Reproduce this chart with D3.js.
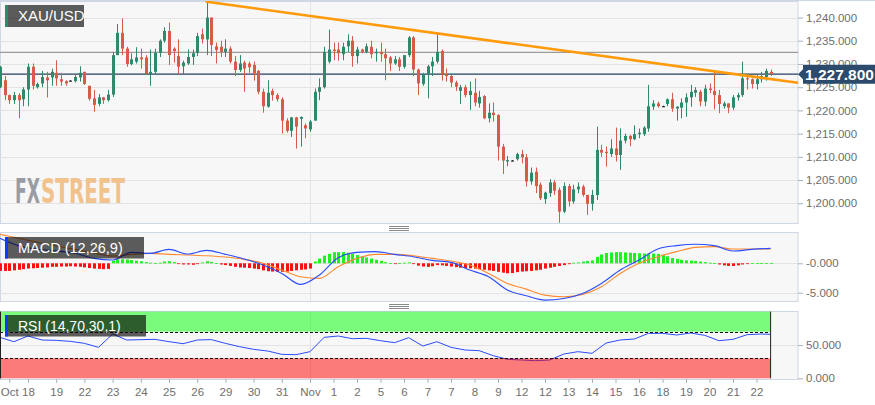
<!DOCTYPE html>
<html><head><meta charset="utf-8">
<script src="https://cdn.jsdelivr.net/npm/d3@7/dist/d3.min.js"></script>
<style>
html,body{margin:0;padding:0;background:#fff;}
svg{display:block;font-family:"Liberation Sans",Arial,sans-serif;}
</style></head>
<body>
<svg id="chart" width="875" height="405"></svg>
<script>
// ---------------- DATA ----------------
const symbol = "XAU/USD";
const lastPrice = 1227.8;
const resistanceLevel = 1232.5;
const open = [1225.0,1226.5,1223.3,1222.2,1223.3,1222.4,1224.5,1229.4,1225.0,1225.8,
1227.1,1227.1,1228.1,1226.7,1226.3,1226.4,1226.3,1227.1,1228.3,1225.3,
1222.6,1221.4,1222.8,1222.2,1223.4,1231.9,1236.7,1233.3,1230.0,1230.5,
1231.4,1231.4,1227.8,1228.3,1232.4,1235.0,1237.1,1233.3,1231.7,1229.5,
1230.1,1231.5,1232.4,1236.4,1235.3,1240.0,1233.8,1233.7,1232.6,1233.3,
1230.5,1228.7,1230.3,1230.1,1229.8,1228.5,1224.0,1220.8,1224.2,1223.3,
1222.4,1217.8,1215.6,1218.5,1218.2,1216.8,1215.9,1217.8,1224.0,1225.0,
1230.5,1233.1,1233.1,1232.1,1233.8,1235.0,1231.7,1233.1,1232.6,1233.7,
1232.3,1232.6,1232.1,1231.4,1230.1,1231.0,1229.4,1231.9,1235.7,1228.8,
1225.7,1227.8,1229.5,1230.5,1232.8,1227.8,1227.4,1226.0,1224.2,1225.0,
1223.3,1223.8,1221.5,1223.1,1218.3,1219.5,1219.0,1212.2,1209.0,1209.2,
1209.5,1210.6,1209.9,1204.7,1206.8,1204.0,1200.9,1202.2,1204.5,1202.9,
1198.2,1203.7,1200.4,1203.0,1203.6,1201.8,1199.9,1201.8,1211.5,1211.1,
1210.6,1211.8,1210.4,1213.5,1214.5,1213.8,1214.9,1214.9,1216.1,1220.8,
1221.5,1220.9,1221.4,1222.4,1220.4,1220.6,1221.7,1222.8,1223.8,1224.0,
1221.9,1224.7,1224.2,1223.3,1220.9,1221.5,1220.6,1222.8,1223.3,1226.9,
1226.7,1225.7,1226.7,1227.2,1228.3];
const high = [1229.6,1227.4,1223.4,1224.0,1223.7,1225.0,1230.1,1230.1,1226.0,1228.5,
1228.3,1229.0,1230.8,1228.1,1226.5,1226.5,1227.6,1229.5,1228.3,1225.3,
1224.4,1223.5,1222.9,1224.4,1232.6,1238.6,1239.8,1233.7,1232.3,1233.6,
1233.3,1231.9,1233.1,1233.3,1235.3,1237.9,1238.9,1233.6,1235.3,1230.7,
1233.1,1233.1,1236.7,1237.6,1243.4,1240.0,1234.6,1235.0,1235.3,1233.8,
1231.7,1231.9,1230.7,1230.5,1230.5,1228.7,1224.7,1226.5,1224.7,1223.7,
1222.8,1218.3,1218.6,1218.6,1218.7,1217.2,1217.9,1224.7,1226.9,1233.7,
1237.4,1234.6,1234.6,1234.6,1236.4,1236.0,1233.7,1233.3,1234.4,1235.0,
1233.3,1234.6,1233.3,1231.7,1231.7,1231.5,1231.9,1236.0,1236.0,1229.0,
1228.1,1229.8,1231.5,1236.6,1233.1,1229.0,1227.6,1226.4,1225.5,1225.5,
1226.2,1226.9,1224.2,1223.3,1221.5,1221.7,1219.2,1212.8,1210.2,1209.3,
1210.9,1211.5,1210.6,1207.7,1207.7,1204.5,1202.5,1205.2,1205.0,1203.4,
1204.5,1204.2,1204.0,1204.5,1204.0,1201.8,1202.9,1216.5,1212.6,1212.2,
1213.8,1216.3,1216.1,1215.0,1214.7,1216.8,1216.1,1216.6,1225.5,1222.2,
1221.9,1221.0,1222.6,1223.8,1220.9,1222.6,1223.7,1225.5,1225.0,1224.4,
1225.5,1225.8,1228.7,1224.4,1221.9,1221.5,1223.3,1223.8,1230.5,1227.6,
1226.9,1227.6,1228.3,1229.0,1228.8];
const low = [1224.8,1222.2,1221.4,1221.4,1218.3,1220.9,1220.9,1224.5,1224.7,1225.0,
1222.8,1225.3,1225.3,1225.3,1225.3,1226.3,1226.0,1226.2,1225.5,1222.1,
1219.7,1220.9,1221.4,1221.9,1222.9,1231.9,1231.9,1229.4,1229.7,1230.1,
1229.0,1227.8,1225.3,1227.8,1231.5,1234.6,1229.8,1230.3,1227.8,1227.8,
1229.8,1229.8,1231.7,1234.4,1231.9,1231.7,1230.1,1231.5,1231.5,1230.1,
1227.4,1228.3,1224.0,1228.1,1226.4,1223.5,1219.5,1220.6,1222.1,1221.9,
1215.0,1215.2,1214.3,1211.8,1212.2,1214.0,1215.4,1217.8,1222.2,1224.7,
1230.1,1230.8,1230.7,1230.8,1232.6,1229.4,1230.1,1232.3,1232.3,1231.2,
1230.5,1230.5,1226.5,1228.5,1229.8,1228.5,1229.0,1231.5,1227.4,1223.3,
1225.3,1222.6,1227.4,1230.1,1226.4,1226.2,1225.0,1224.2,1221.4,1222.8,
1220.1,1220.9,1220.6,1218.1,1217.4,1217.6,1209.2,1206.3,1208.0,1209.1,
1209.2,1208.6,1203.6,1204.0,1202.2,1200.7,1199.9,1201.4,1201.8,1195.8,
1197.9,1199.3,1199.9,1202.2,1201.4,1197.5,1198.4,1200.7,1210.0,1207.9,
1210.0,1209.0,1207.2,1212.9,1212.3,1213.6,1214.0,1214.5,1215.4,1220.1,
1220.6,1220.8,1220.9,1219.7,1217.8,1218.3,1218.6,1220.8,1222.9,1220.9,
1220.9,1223.7,1220.2,1219.4,1220.4,1219.4,1220.1,1222.1,1222.9,1224.5,
1224.7,1224.5,1226.0,1226.4,1227.4];
const close = [1229.4,1223.3,1222.2,1223.3,1222.2,1224.5,1229.4,1225.3,1225.7,1227.2,
1226.5,1228.3,1226.9,1226.2,1225.8,1226.4,1227.2,1228.1,1225.7,1222.5,
1221.2,1222.8,1222.2,1223.4,1231.9,1236.7,1233.3,1230.0,1231.0,1231.4,
1231.0,1227.8,1228.3,1232.4,1235.0,1237.1,1231.9,1232.8,1229.4,1230.3,
1231.5,1232.3,1236.0,1235.3,1240.0,1234.1,1233.0,1232.6,1233.3,1230.5,
1228.7,1230.1,1229.0,1229.3,1228.0,1224.0,1220.9,1223.8,1223.3,1222.4,
1217.8,1215.6,1218.5,1216.5,1218.6,1216.1,1217.6,1224.0,1225.0,1232.6,
1233.1,1232.8,1232.3,1233.7,1235.0,1231.7,1233.1,1232.6,1233.8,1232.1,
1232.6,1232.1,1231.2,1230.1,1231.0,1229.4,1231.9,1235.7,1228.8,1225.8,
1227.8,1229.5,1230.5,1232.6,1227.8,1227.4,1226.0,1225.1,1225.0,1223.3,
1224.2,1221.7,1222.9,1218.3,1219.5,1219.0,1212.2,1209.2,1209.3,1209.2,
1210.6,1209.9,1204.7,1206.6,1203.7,1201.1,1202.3,1204.5,1202.7,1198.2,
1203.7,1200.4,1203.0,1203.6,1201.8,1199.9,1201.8,1211.5,1210.9,1210.8,
1211.8,1210.4,1213.5,1214.5,1213.8,1214.9,1215.2,1216.3,1220.9,1221.5,
1220.9,1220.9,1222.4,1220.4,1220.8,1221.7,1222.8,1224.0,1224.4,1221.9,
1224.7,1224.4,1223.3,1221.4,1221.5,1220.6,1222.8,1223.3,1226.9,1226.7,
1225.7,1226.7,1227.4,1228.5,1227.8];

// trendline anchors: [candle index, price]
const trendA = [44, 1243.4];
const trendB = [93, 1236.6];

// price axis ticks
const priceTicks = [1200,1205,1210,1215,1220,1225,1230,1235,1240];

// x-axis tick labels (candle index -> label)
const xTickIdx    = [2,6,12,18,24,30,36,42,48,54,60,66,71,76,81,86,91,96,101,106,111,116,121,126,131,136,141,146,151,156,161];
const xTickLabels = ["Oct","18","19","22","23","24","25","26","29","30","31","Nov","1","2","5","6","7","7","8","9","12","12","13","14","15","16","18","19","20","21","22"];

// MACD histogram, one per candle
const macdHist = [-1.3,-1.3,-1.3,-1.2,-1.1,-1.0,-0.9,-0.85,-0.8,-0.75,-0.7,-0.6,-0.6,-0.55,-0.55,-0.5,-0.55,-0.6,-0.7,-0.8,-0.9,-0.95,-1.0,-0.95,
0.4,0.7,0.7,0.65,0.55,0.45,0.35,
0.2,0.1,0.05,0.1,0.3,0.35,0.2,-0.1,-0.2,-0.2,-0.25,-0.1,0.15,0.35,0.25,0.05,
-0.2,-0.3,-0.45,-0.6,-0.7,-0.75,-0.8,-0.9,-1.0,-1.2,-1.35,-1.4,-1.45,-1.45,-1.4,-1.3,-1.2,-1.1,-1.05,-0.9,
0.3,0.8,1.3,1.6,1.9,1.9,1.9,1.8,1.6,1.4,1.2,1.0,0.8,0.6,0.4,0.2,
0.05,-0.1,0.05,0.1,0.15,-0.1,
-0.4,-0.55,-0.6,-0.5,-0.3,
-0.35,-0.45,-0.55,-0.65,-0.75,-0.8,-0.85,-0.9,-1.0,-1.1,-1.2,-1.3,-1.45,-1.6,-1.7,-1.65,-1.5,-1.4,-1.35,-1.3,-1.2,-1.1,-0.9,-0.75,-0.6,-0.45,-0.3,-0.15,
0.1,0.15,0.3,0.4,0.5,1.1,1.5,1.75,1.85,1.9,1.9,1.85,1.8,1.75,1.7,1.65,1.65,1.65,1.6,1.4,1.2,0.9,0.75,0.6,0.5,0.45,0.4,0.3,0.2,0.1,0.05,
-0.2,-0.35,-0.45,-0.45,-0.35,-0.2,-0.05,0.05,0.05,0.05,0.05,0.05];
// MACD & signal lines, read every 4th candle
const macdAt = d3.range(0, 165, 4);
const macdLine = [4.25,3.0,2.4,2.1,1.7,0.84,0.56,1.86,1.69,2.37,
1.58,2.2,1.52,0.73,-0.3,-1.72,-3.59,-1.99,0.95,1.86,
1.98,1.52,1.12,0.5,0.16,-1.15,-2.28,-4.56,-5.52,-6.26,
-5.98,-5.12,-3.42,-1.15,0.56,2.43,3.0,3.23,3.0,2.09,
2.37,2.54];
const signalLine = [4.93,4.25,3.57,2.94,2.37,1.75,1.24,1.52,1.69,1.52,
1.41,1.29,1.07,0.67,0,-1.15,-2.28,-2.57,-0.58,0.84,
1.52,1.52,1.29,0.84,0.39,-0.30,-1.72,-3.42,-4.39,-5.41,
-5.69,-5.29,-3.99,-1.72,0,1.12,1.98,2.71,2.83,2.43,
2.43,2.43];
const macdTicks = [0, -5];
const macdTickLabels = ["-0.000", "-5.000"];

// RSI read every 3rd candle (+ last)
const rsiAt = [...d3.range(0, 163, 3), 164];
const rsiValues = [61.4,54.9,63.4,57.4,56.9,55.4,52.4,46.4,66.4,57.4,
57.9,58.4,54.9,51.9,57.4,58,52.4,47.4,43.4,40.9,
35.9,35.4,39.9,61.4,63.4,59.4,59.9,56.4,53.4,60.9,
48.4,54.9,46.4,42.4,41.4,33.9,28.4,27.4,26.4,27.4,
36.4,39.9,37.4,52.9,57.4,58.9,67.4,67.4,64.9,67.9,
64.4,56.4,58.4,65.4,66.4,65.9];
const rsiTicks = [50, 0];
const rsiTickLabels = ["50.000", "0.000"];

// ---------------- LAYOUT ----------------
const W = 875, H = 405;
const plotL = 0, plotR = 798;
const main = {top: 1, bottom: 223};
const macdP = {top: 232, bottom: 301};
const rsiP = {top: 311, bottom: 379};
const n = close.length;

const C = {
  up: "#2e8a6c", down: "#d85a48", doji: "#111",
  grid: "#e3e3e3", bg: "#f7f7f7", border: "#cfd6e4",
  axisText: "#6e6e6e", trend: "#ff9a0a", navy: "#24405f"
};

const svg = d3.select("#chart");
svg.append("rect").attr("width", W).attr("height", H).attr("fill", "#fff");

const x = d3.scaleLinear().domain([0, n - 1]).range([-0.2, -0.2 + 4.7 * (n - 1)]);
const y = d3.scaleLinear().domain([1200, 1240]).range([203.3, 17.5]);
const yM = d3.scaleLinear().domain([-5, 0]).range([292.7, 263.3]);
const yR = d3.scaleLinear().domain([0, 100]).range([378.3, 311.6]);

const defs = svg.append("defs");
function clip(id, top, bottom) {
  defs.append("clipPath").attr("id", id).append("rect")
    .attr("x", plotL).attr("y", top).attr("width", plotR - plotL).attr("height", bottom - top);
  return "url(#" + id + ")";
}
const clipMain = clip("cm", main.top, main.bottom);
const clipMacd = clip("cmacd", macdP.top, macdP.bottom);
const clipRsi = clip("crsi", rsiP.top, rsiP.bottom);

// outer top line
svg.append("line").attr("x1", 0).attr("x2", W).attr("y1", 0.5).attr("y2", 0.5).attr("stroke", C.border);

function panel(p) {
  svg.append("rect").attr("x", plotL + 0.5).attr("y", p.top + 0.5)
    .attr("width", plotR - plotL - 0.5).attr("height", p.bottom - p.top)
    .attr("fill", C.bg).attr("stroke", C.border);
}
panel(main); panel(macdP); panel(rsiP);

// vertical gridline at month start (Nov)
const novIdx = xTickIdx[xTickLabels.indexOf("Nov")];
[main, macdP, rsiP].forEach(p => {
  svg.append("line").attr("x1", Math.round(x(novIdx)) + 0.5).attr("x2", Math.round(x(novIdx)) + 0.5)
    .attr("y1", p.top + 1).attr("y2", p.bottom).attr("stroke", C.grid);
});

// ---------------- MAIN PANEL ----------------
const gMain = svg.append("g").attr("clip-path", clipMain);
gMain.selectAll("line.hg").data(priceTicks).join("line").attr("class", "hg")
  .attr("x1", plotL).attr("x2", plotR)
  .attr("y1", d => Math.round(y(d)) + 0.5).attr("y2", d => Math.round(y(d)) + 0.5)
  .attr("stroke", C.grid);

// watermark (single text element, two coloured parts)
const wm = svg.append("text").attr("x", 15).attr("y", 203)
  .attr("font-family", "'DejaVu Sans Condensed','Liberation Sans Narrow',sans-serif")
  .attr("font-weight", "bold").attr("font-size", 34);
wm.append("tspan").attr("fill", "#9a9ca3")
  .attr("textLength", 25).attr("lengthAdjust", "spacingAndGlyphs").text("FX");
wm.append("tspan").attr("x", 41).attr("fill", "#f1c28c")
  .attr("textLength", 84).attr("lengthAdjust", "spacingAndGlyphs").text("STREET");

// horizontal level lines
gMain.append("line").attr("x1", plotL).attr("x2", plotR)
  .attr("y1", y(resistanceLevel)).attr("y2", y(resistanceLevel))
  .attr("stroke", "#9b9b9b").attr("stroke-width", 1.3);
gMain.append("line").attr("x1", plotL).attr("x2", plotR)
  .attr("y1", y(lastPrice)).attr("y2", y(lastPrice))
  .attr("stroke", C.navy).attr("stroke-width", 1.3);

// candles
const candles = d3.range(n).map(i => ({i, o: open[i], h: high[i], l: low[i], c: close[i]}));
const col = d => d.c > d.o ? C.up : (d.c < d.o ? C.down : C.doji);
const gC = gMain.append("g");
gC.selectAll("line.wick").data(candles).join("line").attr("class", "wick")
  .attr("x1", d => Math.round(x(d.i)) + 0.5).attr("x2", d => Math.round(x(d.i)) + 0.5)
  .attr("y1", d => y(d.h)).attr("y2", d => y(d.l))
  .attr("stroke", col).attr("stroke-width", 1);
gC.selectAll("rect.body").data(candles).join("rect").attr("class", "body")
  .attr("x", d => Math.round(x(d.i)) - 1)
  .attr("width", 3)
  .attr("y", d => y(Math.max(d.o, d.c)))
  .attr("height", d => Math.max(1, Math.abs(y(d.o) - y(d.c))))
  .attr("fill", col);

// trendline (extended to panel's right edge)
const slope = (trendB[1] - trendA[1]) / (trendB[0] - trendA[0]);
const idxEnd = x.invert(plotR);
gMain.append("line")
  .attr("x1", x(trendA[0])).attr("y1", y(trendA[1]))
  .attr("x2", x(idxEnd)).attr("y2", y(trendA[1] + slope * (idxEnd - trendA[0])))
  .attr("stroke", C.trend).attr("stroke-width", 2.6).attr("stroke-linecap", "round");

// price axis
const fmt = d3.format(",.3f");
const axPrice = svg.append("g").attr("transform", `translate(${plotR},0)`)
  .call(d3.axisRight(y).tickValues(priceTicks).tickFormat(fmt).tickSize(5).tickPadding(3));
function styleAxis(g) {
  g.select(".domain").remove();
  g.selectAll(".tick line").attr("stroke", "#a9b0c0");
  g.selectAll(".tick text").attr("fill", C.axisText).attr("font-size", 11.5)
    .attr("font-family", "'Liberation Sans',Arial,sans-serif");
}
styleAxis(axPrice);

// last price marker
const ly = y(lastPrice);
svg.append("path")
  .attr("d", `M798,${ly} L803,${ly - 5} L803,${ly - 9.5} L875,${ly - 9.5} L875,${ly + 9.5} L803,${ly + 9.5} L803,${ly + 5} Z`)
  .attr("fill", "#2b4a6c");
svg.append("text").attr("x", 805).attr("y", ly + 5.5).attr("fill", "#fff")
  .attr("font-size", 15.5).attr("font-weight", "bold").text(fmt(lastPrice));

// ---------------- MACD PANEL ----------------
const gM = svg.append("g").attr("clip-path", clipMacd);
gM.selectAll("line.mg").data(macdTicks).join("line").attr("class", "mg")
  .attr("x1", plotL).attr("x2", plotR)
  .attr("y1", d => Math.round(yM(d)) + 0.5).attr("y2", d => Math.round(yM(d)) + 0.5)
  .attr("stroke", C.grid);
gM.selectAll("rect.hist").data(macdHist).join("rect").attr("class", "hist")
  .attr("x", (d, i) => Math.round(x(i)) - 1).attr("width", 3)
  .attr("y", d => Math.min(yM(d), yM(0)))
  .attr("height", d => Math.max(0.8, Math.abs(yM(d) - yM(0))))
  .attr("fill", d => d >= 0 ? "#1ff01f" : "#ff1010");
const mLine = d3.line().x(d => x(d[0])).y(d => yM(d[1])).curve(d3.curveMonotoneX);
gM.append("path").attr("d", mLine(macdAt.map((a, k) => [a, signalLine[k]])))
  .attr("fill", "none").attr("stroke", "#ff8a2e").attr("stroke-width", 1.1);
gM.append("path").attr("d", mLine(macdAt.map((a, k) => [a, macdLine[k]])))
  .attr("fill", "none").attr("stroke", "#2a4cff").attr("stroke-width", 1.1);
const axM = svg.append("g").attr("transform", `translate(${plotR},0)`)
  .call(d3.axisRight(yM).tickValues(macdTicks).tickFormat((d, k) => macdTickLabels[k]).tickSize(5).tickPadding(3));
styleAxis(axM);

// ---------------- RSI PANEL ----------------
const gR = svg.append("g").attr("clip-path", clipRsi);
gR.append("line").attr("x1", plotL).attr("x2", plotR)
  .attr("y1", Math.round(yR(50)) + 0.5).attr("y2", Math.round(yR(50)) + 0.5).attr("stroke", C.grid);
gR.append("path").attr("d", d3.line().x(d => x(d[0])).y(d => yR(d[1]))(rsiAt.map((a, k) => [a, rsiValues[k]])))
  .attr("fill", "none").attr("stroke", "#2a4cff").attr("stroke-width", 1);
const bandR = x(n - 1);
gR.append("rect").attr("x", 0).attr("width", bandR).attr("y", yR(100)).attr("height", yR(70) - yR(100))
  .attr("fill", "rgba(0,255,0,0.5)");
gR.append("rect").attr("x", 0).attr("width", bandR).attr("y", yR(30)).attr("height", yR(0) - yR(30))
  .attr("fill", "rgba(255,0,0,0.5)");
[70, 30].forEach(v => gR.append("line").attr("x1", 0).attr("x2", bandR)
  .attr("y1", Math.round(yR(v)) + 0.5).attr("y2", Math.round(yR(v)) + 0.5)
  .attr("stroke", "#111").attr("stroke-dasharray", "3,2").attr("stroke-width", 1));
[0.5, bandR].forEach(xx => gR.append("line").attr("x1", xx).attr("x2", xx)
  .attr("y1", yR(100)).attr("y2", yR(0)).attr("stroke", "#222").attr("stroke-width", 1));
const axR = svg.append("g").attr("transform", `translate(${plotR},0)`)
  .call(d3.axisRight(yR).tickValues(rsiTicks).tickFormat((d, k) => rsiTickLabels[k]).tickSize(5).tickPadding(3));
styleAxis(axR);

// ---------------- X AXIS ----------------
const axX = svg.append("g").attr("transform", `translate(0,${rsiP.bottom})`)
  .call(d3.axisBottom(x).tickValues(xTickIdx).tickFormat((d, k) => xTickLabels[k]).tickSize(4).tickPadding(5));
axX.select(".domain").remove();
axX.selectAll(".tick line").attr("stroke", "#a9b0c0");
axX.selectAll(".tick text").attr("fill", C.axisText).attr("font-size", 11.5)
  .attr("font-family", "'Liberation Sans',Arial,sans-serif");

// ---------------- LABEL BOXES ----------------
function labelBox(x0, y0, w, h, accent, text, fs) {
  svg.append("rect").attr("x", x0).attr("y", y0).attr("width", w).attr("height", h).attr("fill", "rgba(0,0,0,0.63)");
  svg.append("rect").attr("x", x0).attr("y", y0).attr("width", 3).attr("height", h).attr("fill", accent);
  svg.append("text").attr("x", x0 + 13).attr("y", y0 + h / 2 + fs * 0.36).attr("fill", "#fff")
    .attr("font-size", fs).text(text);
}
labelBox(5, 5, 79, 22, "#2e8a6c", symbol, 15);
labelBox(5, 237, 139, 21.5, "#1238ff", "MACD (12,26,9)", 14.5);
labelBox(5, 315, 141, 21.5, "#1238ff", "RSI (14,70,30,1)", 14);

// panel handles
[[226.5, 228.5, 230.5], [304.5, 306.5, 308.5]].forEach(ys => ys.forEach(yy =>
  svg.append("line").attr("x1", 389).attr("x2", 409).attr("y1", yy).attr("y2", yy).attr("stroke", "#8a8a8a")));

if (![open, high, low, macdHist].every(a => a.length === n) || macdLine.length !== macdAt.length || rsiValues.length !== rsiAt.length) {
  svg.append("text").attr("x", 300).attr("y", 120).attr("fill", "red").text("LENGTH MISMATCH");
}
</script>
</body></html>
